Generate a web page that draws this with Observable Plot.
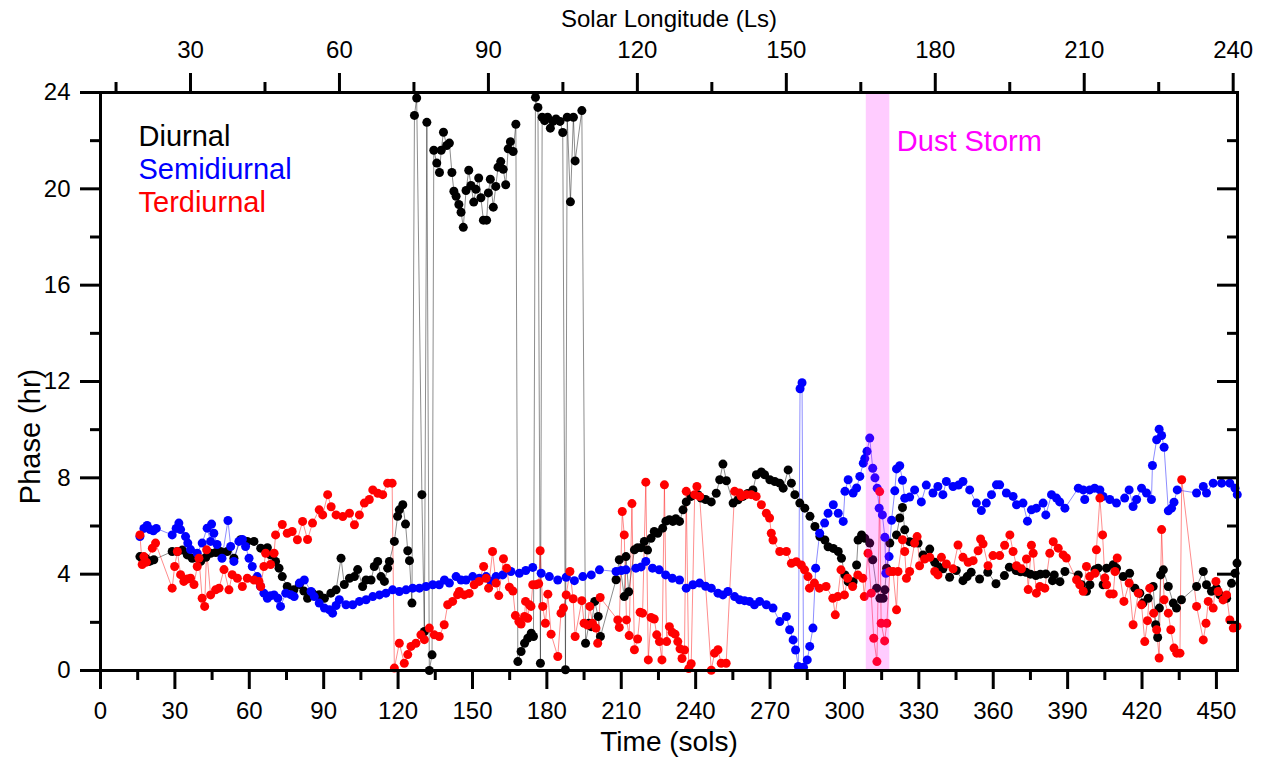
<!DOCTYPE html>
<html>
<head>
<meta charset="utf-8">
<script src="https://cdn.jsdelivr.net/npm/d3@7"></script>
<script src="https://cdn.jsdelivr.net/npm/@observablehq/plot@0.6"></script>
<style>
  html, body { margin: 0; padding: 0; background: white; }
</style>
</head>
<body>
<div id="chart"></div>
<script>
// ---------------- DATA ----------------
const diurnal = [
[15.9,4.73],[16.8,4.66],[18.2,4.66],[19.5,4.53],[20.2,4.55],[21.5,4.6],
[28.9,4.94],[31,4.94],[33,5.0],[35,4.8],[37,4.66],[38.5,4.7],[40.4,4.53],[42.5,4.7],[44.4,4.87],[46.5,4.9],[48.4,4.94],[51.1,4.94],[53.8,4.66],[56.5,5.43],[59.2,5.36],[61.9,5.36],[64.6,5.08],[67.3,5.1],[68.6,4.8],[70.6,4.53],[72,4.25],[73.3,3.9],[75.3,3.49],[78,3.35],
[80.2,3.57],[82,3.3],[83.5,3.0],[85.5,3.21],[88.2,3.15],[90.3,3.0],[92.9,3.21],[95,3.35],[97,4.66],[98.3,3.57],[100.4,3.83],[102.4,3.9],[103.7,4.19],[105.7,3.49],[107.1,3.76],[109.1,3.76],[110.4,4.32],[111.8,4.53],[113.1,3.9],[114.5,3.7],[115.8,4.25],[116.5,4.53],[118.5,5.36],[119.8,6.4],[120.5,6.67],[121.9,6.88],[123,6.08],[123.9,4.97],[124.6,4.56],[125.6,2.8],
[126.6,23.05],[127.5,23.77],[129.6,7.3],[130.6,1.62],[131.6,22.76],[132.6,0.0],[133.7,0.65],[134.4,21.6],[135.6,21.07],[136.7,20.68],[137.4,21.6],[138.3,22.35],[139.6,21.8],[140.7,21.9],[141.7,20.68],[142.5,19.9],[143.4,19.69],[144.5,19.35],[145.4,19.03],[146.3,18.4],[147.4,19.93],[148.5,20.77],[149.4,20.14],[150.5,19.45],[151.4,19.98],[152.5,20.45],[153.4,19.63],[154.4,18.7],[155.7,18.7],[156.4,19.83],[157.2,20.4],[158.4,19.24],[159.4,20.1],[160.3,20.9],[161.4,21.13],[162.4,20.81],[163.4,20.17],[164.4,21.66],[165.3,21.96],[166.4,21.55],[167.5,22.68],
[168.3,0.37],[169.6,0.79],[171,1.13],[172.3,1.34],[173.7,1.55],[174.6,1.41],[175.4,23.8],[176.4,23.38],[177.4,0.3],[178.1,22.97],[179.1,22.83],[180.3,22.97],[181.4,22.52],[182.5,22.8],[183.7,22.9],[185.3,22.8],[186.4,22.34],[187.5,0.03],[188.2,22.97],[189.5,19.46],[190.7,22.97],[191.4,21.16],[194.1,23.25],[195.6,1.13],[197,1.96],[197.9,1.82],[199.3,2.87],[200.7,2.24],[201.6,1.41],
[207.9,3.77],[209.2,4.6],[211.2,3.07],[211.9,4.73],[213,3.27],[215.3,5.01],[216.6,5.1],[218,5.1],[219.3,5.36],[220.6,5.0],[222,5.49],[223.3,5.77],[224.7,5.7],[226.7,5.91],[228,6.2],[229.4,6.26],[230.8,6.19],[232,6.3],[233.5,6.19],[234.9,6.67],[236.2,7.0],[238.2,7.23],[240.9,7.3],[242.2,7.16],[244,7.1],[246.3,7.0],[248.3,7.36],[249.7,7.92],[251,8.57],[252.4,7.88],[255.1,6.95],[257.1,7.09],[259.1,7.23],[261,7.35],[263.1,7.5],[264.5,8.13],[266.5,8.24],[267.8,8.13],[269.9,7.92],[271.9,7.85],[273.9,7.78],[275.3,7.57],[277.3,8.33],[278.6,7.78],[280,7.3],[282,6.95],[284,6.74],[286.1,6.4],[288.1,5.98],[290.1,5.56],[292.1,5.42],[293.4,5.14],[295.5,5.07],[297.5,4.94],[298.8,4.66],[300.2,3.97],[301.5,3.69],[303.5,3.69],[304.9,4.38],[305.5,5.42],[306.9,5.63],[308.2,5.49],[310.2,5.29],[311.4,4.6],[313,3.42],[314.3,3.0],[315.6,3.0],[316.3,3.35],[317,4.25],[318.3,5.29],[321,5.63],[322.3,6.33],[323.4,6.77],[324.3,5.84],[326.3,5.35],[328,5.3],[329.7,5.29],[331.7,4.8],[334.4,5.04],[336.4,4.49],[338,4.3],[339.7,4.22],[342.4,3.87],[345.1,4.15],[347.8,3.73],[349.5,3.9],[351.1,4.08],[354.5,3.8],[357.8,4.08],[361.1,3.6],[364.5,3.94],[366.5,4.29],[369.2,4.15],[371,4.1],[373.2,4.08],[375,4.0],[377.2,3.94],[379,4.0],[381.2,4.01],[383.9,3.73],[384.6,3.97],[386.9,3.69],[388.9,4.11],[394.3,3.97],[395.6,3.56],[397.6,3.29],[399,3.56],[401,4.18],[402.3,4.25],[404.3,3.56],[405.7,4.25],[408.4,4.39],[409.7,4.25],[412.4,3.9],[415,4.04],[417.1,3.42],[419.1,3.21],[420.4,2.8],[422.5,3.0],[424.5,3.49],[425.5,1.9],[426.3,1.37],[427,2.59],[427.5,3.97],[428.6,4.18],[430.6,3.49],[432.6,2.8],[433.9,2.59],[435.9,2.94],[442,3.49],[444.7,4.11],[446,3.56],[448,3.29],[450,3.42],[451.4,3.14],[454.1,3.0],[456.1,3.62],[457.5,4.04],[458.3,4.46]
];

const semidiurnal = [
[15.9,5.56],[17.5,5.9],[18.8,6.02],[20,5.85],[21.3,5.8],[22.5,5.9],[28.9,5.63],[30.5,5.9],[31.6,6.12],[32.3,5.85],[34.3,5.56],[35.2,5.29],[36.3,5.02],[39,4.87],[41,5.29],[43,5.91],[44.4,5.36],[44.8,6.08],[45.7,5.7],[47,5.23],[49,4.66],[51.4,6.23],[52.5,5.15],[53.8,4.53],[55.8,5.36],[57.2,5.44],[58.5,5.15],[59.9,4.66],[61.2,4.32],[63.2,3.9],[64.5,3.5],[65.9,3.21],[67.3,3.0],[68.5,3.1],[70,3.14],[71.5,3.0],[72.6,2.66],[74.7,3.21],[76.7,3.15],[78.1,3.07],[80.2,3.63],[82.2,3.76],[84.9,3.28],[86.2,3.07],[88.2,2.8],[90.3,2.59],[92.3,2.52],[93.6,2.38],[95,2.7],[96.3,2.94],[99,2.73],[101.7,2.73],[104.4,2.87],[107.1,2.94],[109.8,3.07],[112.5,3.14],[115.1,3.21],[117.8,3.35],[120.5,3.28],[123.2,3.35],[125.9,3.42],[128.6,3.42],[131.3,3.49],[134,3.56],[136.6,3.56],[138.7,3.76],[140.7,3.63],[143.4,3.9],[145.4,3.76],[147.4,3.76],[150.1,3.9],[152.8,3.83],[155.5,3.9],[157.5,3.7],[159.5,3.9],[162.2,3.97],[165.5,4.11],[168.9,4.04],[171.5,4.15],[174.3,4.28],[177.7,4.04],[181,3.9],[184.4,3.76],[187.8,3.87],[191.1,3.73],[194.5,3.9],[197.9,3.97],[201.2,4.18],[207.9,4.11],[210,4.15],[211.9,4.18],[215.9,4.25],[218,4.3],[219.9,4.53],[222.6,4.25],[225.3,4.18],[227.9,3.97],[230.6,3.83],[233.5,3.76],[236.2,3.42],[238.9,3.56],[241.6,3.63],[244,3.5],[246.3,3.42],[249,3.21],[251,3.14],[253,3.28],[255.7,3.07],[257.7,2.94],[259.7,2.9],[261.7,2.87],[263.7,2.73],[265.8,2.87],[268.5,2.73],[271.2,2.59],[273.9,2.03],[276.6,2.24],[277.9,1.69],[279.3,1.27],[280.3,0.85],[281.4,0.17],[282.1,11.7],[282.9,11.95],[283.5,0.13],[285,0.44],[286,1.0],[287.3,1.76],[288.4,4.25],[290,5.7],[292,6.12],[293.4,6.53],[295.5,6.88],[297.5,6.53],[299.5,6.19],[300.2,7.44],[301.5,7.92],[303.5,7.37],[304.9,7.58],[306.2,8.06],[307.6,8.61],[308.2,8.8],[309.1,9.1],[310.2,9.65],[311.4,8.4],[312.3,8.0],[313.2,7.57],[314,6.74],[315.3,6.46],[316.3,5.53],[316.7,4.04],[318,4.73],[319,6.24],[320.3,7.46],[321,8.37],[322.3,8.5],[323.4,7.9],[324.3,7.15],[326.3,7.2],[328.3,7.5],[331,7.0],[333,7.7],[335.7,7.37],[337.7,7.64],[339.7,7.3],[341.1,7.85],[343.8,7.64],[346,7.7],[347.8,7.85],[350.5,7.5],[353.2,6.95],[355.2,6.64],[357.2,6.95],[359.3,7.3],[361.3,7.71],[362.6,7.71],[365.3,7.37],[368,7.23],[369.4,6.88],[372,6.95],[373.8,6.2],[375.4,6.67],[377.4,6.74],[380.1,6.95],[381.2,6.46],[383.5,7.3],[385.5,7.16],[386.8,7.0],[388.9,6.74],[394.3,7.57],[396.3,7.5],[396.9,7.1],[398.9,7.5],[400.9,7.57],[403,7.5],[404.3,7.23],[407,7.1],[409.7,6.95],[413,7.16],[414.8,7.5],[416.4,6.81],[417.8,7.1],[419.8,7.57],[421.8,7.37],[423.8,7.1],[424.2,8.51],[425.9,9.58],[426.9,10.02],[427.9,9.76],[428.9,9.27],[430.6,6.63],[431.9,6.74],[432.9,6.99],[434.2,7.5],[442,7.37],[444.7,7.64],[446,7.37],[448.7,7.78],[452.1,7.78],[455.4,7.78],[457.5,7.57],[458.4,7.3]
];

const terdiurnal = [
[15.9,5.63],[16.8,4.4],[17.5,4.73],[18.5,4.5],[20.9,5.08],[22.2,5.29],[28.9,3.42],[29.9,4.32],[31,4.94],[32.3,3.98],[33.6,3.7],[35,3.8],[36.3,3.83],[37.7,3.57],[39,4.32],[39.7,4.66],[41,3.0],[42,2.66],[42.8,5.01],[44.4,3.14],[46.4,3.35],[47.8,3.42],[49.8,4.19],[51.8,3.35],[53.1,3.98],[55.2,3.83],[57.2,3.49],[59.2,3.83],[61.9,3.76],[63.9,3.7],[64.6,3.49],[65.9,4.32],[66.6,4.87],[68.6,4.4],[70,4.87],[70.6,5.63],[73.3,6.06],[75.3,5.7],[77.3,5.77],[79.4,5.43],[81.5,6.19],[83.5,5.44],[85.5,6.12],[88.2,6.67],[89.6,6.46],[91.6,7.3],[93,6.8],[95,6.46],[97.7,6.39],[100.4,6.53],[102.4,6.05],[104.4,6.46],[106.4,6.95],[108.4,7.1],[109.8,7.5],[111.8,7.36],[113.8,7.3],[115.8,7.78],[117.6,7.78],
[118.5,0.1],[120.5,1.13],[122.5,0.3],[123.9,0.66],[125.2,1.0],[127.2,1.13],[129.2,1.48],[130.6,1.28],[132.6,1.76],[134.6,1.48],[136.6,1.41],[138.6,1.9],[140,2.73],[142,2.87],[144,3.15],[144.7,3.28],[146.7,3.14],[148.7,3.2],[150.7,3.56],[152.7,3.7],[154.5,4.32],[155.5,3.83],[156.5,3.42],[158.1,4.94],[159.5,3.63],[160.6,3.11],[162.5,4.64],[163.8,4.25],[164.9,3.46],[166.3,3.3],[167.3,2.28],[168.7,2.03],[169.6,1.93],[171,2.24],[171.4,2.87],[172.3,2.17],[173,2.73],[173.6,2.66],[174.3,3.56],[175.6,3.56],[176.7,3.6],[177.3,4.97],[178.3,2.66],[179.4,1.96],[180.4,3.17],[181.7,1.51],[184.4,0.58],[185.7,2.38],[186.7,2.59],[187.8,3.14],[189.3,4.11],[190.6,2.98],[191.4,1.41],[194.1,2.9],[195,1.96],[196.4,1.89],[197.3,2.66],[198.4,1.96],[199.8,1.76],[200.5,1.13],[201.5,3.03],
[208.6,2.1],[209.2,1.79],[210.4,6.6],[211.2,5.63],[212.1,2.1],[213.2,1.45],[214.3,6.93],[215.3,0.86],[216.6,1.31],[217.6,2.42],[218.6,2.38],[219.9,7.82],[220.9,0.44],[222,2.2],[223.3,2.14],[224.3,1.48],[225.4,1.2],[226.4,0.44],[227.4,7.71],[228.3,1.2],[229.4,1.82],[230.5,1.59],[231.7,1.51],[232.8,1.2],[233.7,0.9],[234.5,0.5],[235.5,0.85],[236.2,7.44],[237.2,0.08],[238.2,0.28],[239.6,7.3],[240.5,7.64],[241.6,7.23],[246.3,0.01],[247.6,0.72],[249,0.86],[250.3,0.3],[252.3,0.3],[255.7,7.44],[257.7,7.37],[258.4,7.23],[260.5,7.3],[262.4,7.3],[264.4,7.23],[266.5,6.88],[268.5,6.53],[269.8,6.33],[270.5,5.7],[271.2,5.42],[273.9,4.94],[276.6,4.94],[278.6,4.45],[280.6,4.52],[282.6,4.38],[283.9,4.18],[285.3,3.9],[285.9,3.42],[287.9,3.63],[289.9,3.42],[292.6,3.49],[295.3,3.0],[296.3,2.31],[297.3,3.07],[298.6,4.18],[300,3.14],[301.3,3.83],[303.3,3.49],[305.4,3.97],[307.4,3.83],[308,3.07],[309.5,4.87],[310.8,3.21],[311.8,1.34],[313.1,0.37],[314.2,7.43],[314.8,1.96],[316.2,1.23],[317.1,1.96],[318.3,4.11],[319.6,4.11],[321,2.52],[321.6,4.11],[323.4,5.43],[324.3,4.94],[325,3.83],[326.3,4.11],[328.3,5.29],[329.3,5.56],[330.3,4.35],[332.3,4.63],[334.4,4.7],[336.4,4.11],[337.7,3.97],[339.1,4.7],[341.1,4.42],[343.8,4.22],[345.8,5.21],[347.8,4.7],[349.9,4.49],[351.9,4.56],[353.9,4.97],[354.9,5.46],[355.9,5.26],[357.9,4.35],[359.9,4.77],[362.6,4.77],[364.6,5.2],[366.7,5.63],[368,4.94],[369.4,4.35],[371.4,4.22],[373.4,4.63],[374.1,3.36],[375.4,5.2],[376.1,4.87],[377.4,3.21],[378.8,3.49],[380.8,3.42],[382.8,4.87],[384.2,5.35],[386.2,5.08],[388.2,4.8],[389.5,4.67],[393.6,3.77],[394.9,3.56],[396.3,3.29],[397.6,4.32],[398.9,3.9],[401,4.04],[401.6,5.01],[403,7.16],[404.1,5.63],[405,3.84],[405.7,3.56],[407,3.18],[408.4,3.18],[409.1,4.11],[410,4.67],[412.7,2.87],[414.8,3.63],[416.4,1.9],[418.5,3.21],[419.8,2.73],[421.1,1.2],[422.2,2.07],[423.1,3.42],[424.7,2.38],[425.9,1.69],[426.9,0.52],[427.9,5.85],[428.9,2.94],[430.6,2.38],[431.6,1.69],[432.9,0.93],[434,0.72],[435.3,0.72],[436,7.92],[442,2.66],[444.7,1.27],[445.8,1.96],[446.7,2.87],[448.7,2.59],[449.8,3.7],[450.7,3.28],[452.7,2.93],[454.1,3.14],[455.4,2.1],[456.8,1.76],[458.3,1.83]
];

const seriesNames = ["Diurnal", "Semidiurnal", "Terdiurnal"];
const seriesColors = ["#000000", "#0000ff", "#ff0000"];
const dustStorm = [308.8, 318.3];           // sols
const dustLabel = "Dust Storm";
const solTicks = d3.range(0, 451, 30);
const solMinorTicks = d3.range(15, 451, 30);
const phaseTicks = d3.range(0, 25, 4);
const phaseMinorTicks = d3.range(2, 24, 4);
const lsTicks = [30, 60, 90, 120, 150, 180, 210, 240];
const lsMinorTicks = [15, 45, 75, 105, 135, 165, 195, 225];

// ---------------- AXIS CALIBRATION ----------------
const SOL_MAX = 458.5;
const LS_LEFT = 11.87, LS_RIGHT = 240.87;    // Ls at left and right frame edges
const solFromLs = ls => (ls - LS_LEFT) / (LS_RIGHT - LS_LEFT) * SOL_MAX;
const lsFromSol = s => LS_LEFT + s / SOL_MAX * (LS_RIGHT - LS_LEFT);

const W = 1265, H = 759;
const mL = 100, mR = 28, mT = 92, mB = 89;
const innerW = W - mL - mR;
const FONT = "'Liberation Sans', Arial, Helvetica, sans-serif";

const allSeries = [diurnal, semidiurnal, terdiurnal];

const marks = [];
allSeries.forEach((data, i) => {
  marks.push(Plot.line(data, {x: d => d[0], y: d => d[1], stroke: seriesColors[i], strokeWidth: 1, strokeOpacity: 0.45}));
});
allSeries.forEach((data, i) => {
  marks.push(Plot.dot(data, {x: d => d[0], y: d => d[1], r: 4.5, fill: seriesColors[i], stroke: "none"}));
});

// dust storm band (on top, translucent)
marks.push(Plot.rect([dustStorm], {x1: d => d[0], x2: d => d[1], fill: "#ff00ff", fillOpacity: 0.2}));

// frame
marks.push(Plot.frame({stroke: "black", strokeWidth: 3}));

// bottom axis
marks.push(Plot.axisX({anchor: "bottom", ticks: solTicks, tickSize: 19, tickPadding: 12, strokeWidth: 3, fontSize: 24, label: null, tickFormat: d => String(d)}));
marks.push(Plot.axisX({anchor: "bottom", ticks: solMinorTicks, tickSize: 10, strokeWidth: 3, label: null, tickFormat: () => ""}));
// top axis (Solar Longitude)
marks.push(Plot.axisX({anchor: "top", ticks: lsTicks.map(solFromLs), tickSize: 20, tickPadding: 15, strokeWidth: 3, fontSize: 24, label: null, tickFormat: d => String(Math.round(lsFromSol(d)))}));
marks.push(Plot.axisX({anchor: "top", ticks: lsMinorTicks.map(solFromLs), tickSize: 11, strokeWidth: 3, label: null, tickFormat: () => ""}));
// left axis
marks.push(Plot.axisY({anchor: "left", ticks: phaseTicks, tickSize: 20, tickPadding: 10, strokeWidth: 3, fontSize: 24, label: null, tickFormat: d => String(d)}));
marks.push(Plot.axisY({anchor: "left", ticks: phaseMinorTicks, tickSize: 10, strokeWidth: 3, label: null, tickFormat: () => ""}));
// right axis: inward ticks, no labels
marks.push(Plot.tickY(phaseTicks, {y: d => d, insetLeft: innerW - 20, stroke: "black", strokeWidth: 3}));
marks.push(Plot.tickY(phaseMinorTicks, {y: d => d, insetLeft: innerW - 10, stroke: "black", strokeWidth: 3}));

// axis titles
marks.push(Plot.text(["Time (sols)"], {frameAnchor: "bottom", lineAnchor: "middle", dy: 72, fontSize: 28, fill: "black"}));
marks.push(Plot.text(["Solar Longitude (Ls)"], {frameAnchor: "top", lineAnchor: "middle", dy: -73, fontSize: 24, fill: "black"}));
marks.push(Plot.text(["Phase (hr)"], {frameAnchor: "left", textAnchor: "middle", lineAnchor: "middle", rotate: -90, dx: -70, dy: 55, fontSize: 29, fill: "black"}));

// legend
seriesNames.forEach((name, i) => {
  marks.push(Plot.text([name], {frameAnchor: "top-left", lineAnchor: "middle", dx: 38, dy: 44 + 33 * i, textAnchor: "start", fontSize: 29, fill: seriesColors[i]}));
});

// dust storm label
marks.push(Plot.text([dustLabel], {x: dustStorm[1], frameAnchor: "top", lineAnchor: "middle", dx: 7, dy: 49, textAnchor: "start", fontSize: 29, fill: "#ff00ff"}));

const chart = Plot.plot({
  width: W, height: H,
  marginLeft: mL, marginRight: mR, marginTop: mT, marginBottom: mB,
  x: {domain: [0, SOL_MAX]},
  y: {domain: [0, 24]},
  style: {fontFamily: FONT, fontSize: "24px", color: "black", background: "white", overflow: "visible"},
  marks
});
document.getElementById("chart").appendChild(chart);
</script>
</body>
</html>
